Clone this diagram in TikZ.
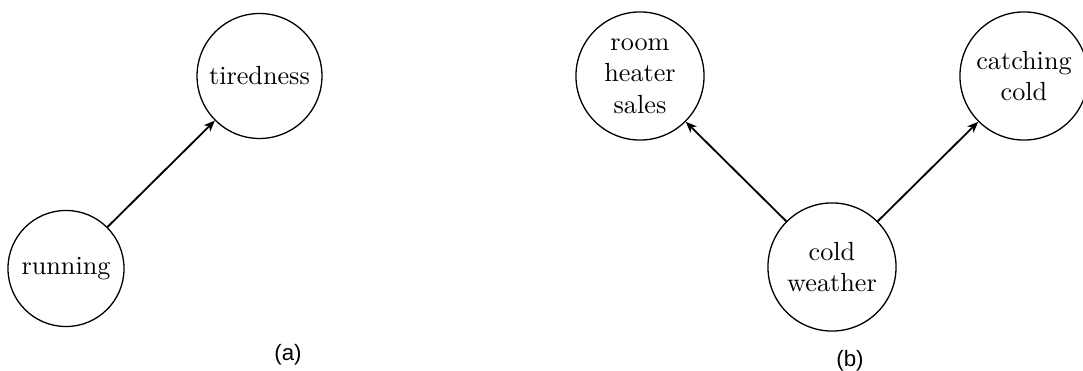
\documentclass[tikz,border=0pt]{standalone}
\usepackage{fontspec}
\newfontfamily\labelfont{Liberation Sans}
\usetikzlibrary{arrows.meta}
\begin{document}
\begin{tikzpicture}[x=0.3817pt,y=-0.3817pt,
  var/.style={draw,circle,line width=0.5pt,inner sep=0pt,align=center,font=\fontsize{10}{12}\selectfont},
  edge/.style={line width=0.7pt,-{Stealth[length=4.2pt,width=3.4pt,inset=1.2pt]}},
  caption/.style={font=\labelfont\fontsize{8.5}{10}\selectfont}]
\useasboundingbox (0,0) rectangle (1083,371);
\node[var,minimum size=44.3pt] (run) at (66,268.5) {running};
\node[var,minimum size=47.7pt] (tired) at (259.5,76) {tiredness};
\node[var,minimum size=48.9pt] (room) at (640,76) {room\\heater\\sales};
\node[var,minimum size=48.9pt] (catch) at (1024,76) {catching\\cold};
\node[var,minimum size=48.9pt] (cold) at (832,267) {cold\\weather};
\draw[edge] (run.45) -- (tired.225);
\draw[edge] (cold.135) -- (room.315);
\draw[edge] (cold.45) -- (catch.225);
\node[caption] (capa) at (288,355) {(a)};
\node[caption] (capb) at (850,361) {(b)};
\end{tikzpicture}
\end{document}
